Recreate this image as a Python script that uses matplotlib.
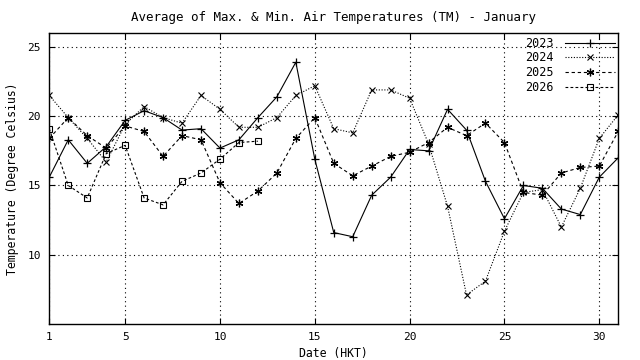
import matplotlib
matplotlib.use("Agg")
import matplotlib.pyplot as plt
import numpy as np

days = np.arange(1, 32)

t2023 = [15.6, 18.3, 16.6, 17.8, 19.7, 20.4, 19.9, 19.0, 19.1, 17.7,
         18.3, 19.9, 21.4, 23.9, 16.9, 11.6, 11.3, 14.3, 15.6, 17.6,
         17.5, 20.5, 19.0, 15.3, 12.6, 15.0, 14.8, 13.3, 12.9, 15.6, 17.0]
t2024 = [21.5, 19.9, 18.4, 16.7, 19.4, 20.7, 19.9, 19.5, 21.5, 20.5,
         19.2, 19.2, 19.9, 21.5, 22.2, 19.1, 18.8, 21.9, 21.9, 21.3,
         18.0, 13.5, 7.1, 8.1, 11.7, 14.5, 14.7, 12.0, 14.8, 18.4, 20.1]
t2025 = [18.4, 19.9, 18.6, 17.7, 19.3, 18.9, 17.1, 18.6, 18.3, 15.2,
         13.7, 14.6, 15.9, 18.4, 19.9, 16.6, 15.7, 16.4, 17.1, 17.4,
         18.1, 19.2, 18.6, 19.5, 18.1, 14.5, 14.3, 15.9, 16.3, 16.4, 18.9]
t2026 = [19.1, 15.0, 14.1, 17.3, 17.9, 14.1, 13.6, 15.3, 15.9, 16.9,
         18.1, 18.2]

xticks = [1, 5, 10, 15, 20, 25, 30]
yticks = [10, 15, 20, 25]

plt.rcParams['font.family'] = 'DejaVu Sans Mono'
plt.rcParams['font.size'] = 7.5

fig = plt.figure(figsize=(6.4, 3.6), dpi=100)
ax = fig.add_axes([0.077, 0.1, 0.889, 0.808])

lw = 0.8
ax.plot(days, t2023, color='black', lw=lw, ls='-', marker='+', ms=6, mew=0.9, label='2023')
ax.plot(days, t2024, color='black', lw=lw, ls=(0, (1, 1.5)), marker='x', ms=4.5, mew=0.8, label='2024')
ax.plot(days, t2025, color='black', lw=lw, ls=(0, (3, 2.5)), marker=(6, 2, 0), ms=5.5, mew=0.9, label='2025')
ax.plot(days[:len(t2026)], t2026, color='black', lw=lw, ls=(0, (2.5, 2)), marker='s', ms=4.5,
        mfc='none', mew=0.8, label='2026')

ax.set_xlim(1, 31)
ax.set_ylim(5, 26)
ax.set_xticks(xticks)
ax.set_yticks(yticks)
ax.tick_params(direction='in', top=True, right=True, length=4, width=0.8, pad=6, labelsize=8)
ax.grid(True, color='black', ls=(0, (1, 3)), lw=0.8)
for s in ax.spines.values():
    s.set_linewidth(1.0)

ax.set_title('Average of Max. & Min. Air Temperatures (TM) - January', pad=9)
ax.set_xlabel('Date (HKT)', labelpad=3, fontsize=8.3)
ax.set_ylabel('Temperature (Degree Celsius)', labelpad=6, fontsize=8.3)

leg = ax.legend(loc='upper right', frameon=False, markerfirst=False, handlelength=4.2,
                borderaxespad=0.1, labelspacing=0.15, handletextpad=1.0, fontsize=8.5,
                borderpad=0.2)

fig.savefig('out.png', dpi=100)
